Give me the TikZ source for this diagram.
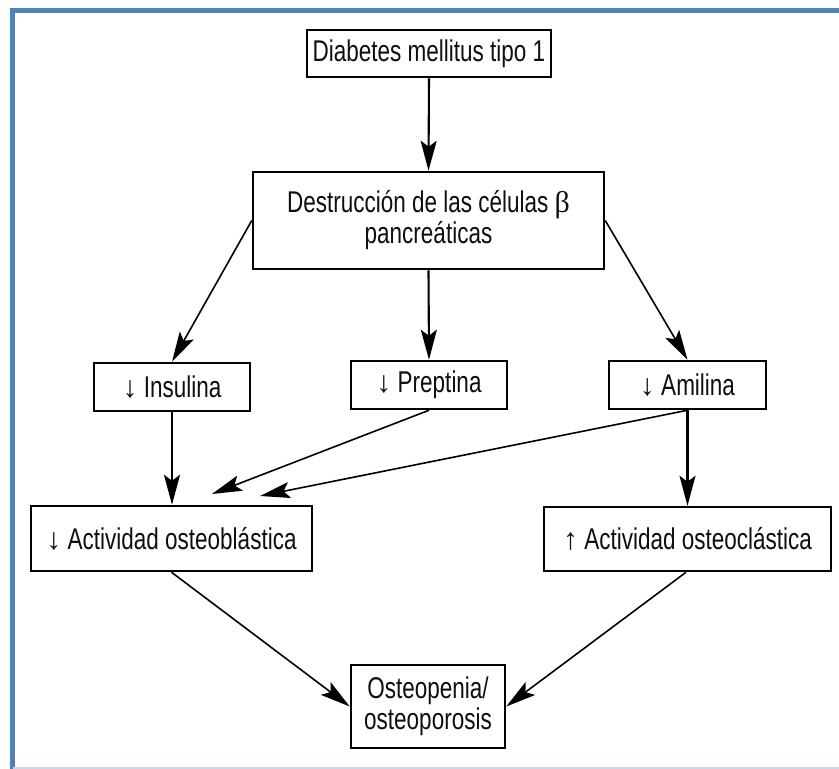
\documentclass[tikz,border=0pt]{standalone}
\usepackage{fontspec}
\setmainfont[FakeStretch=0.75]{Liberation Sans}
\newfontfamily\symf{Liberation Serif}
\usetikzlibrary{arrows.meta}
\definecolor{frameblue}{RGB}{79,129,189}
\definecolor{framelight}{RGB}{200,216,236}
\definecolor{inkgray}{RGB}{15,15,15}
\begin{document}
\begin{tikzpicture}[x=1pt,y=-1pt,
  box/.style={draw=black, line width=2.5pt, inner sep=0pt, align=center,
    font=\fontsize{30}{31}\selectfont, text=inkgray},
  arr/.style={-{Stealth[length=30pt,width=16pt,inset=6pt]}, line width=1.6pt},
  varr/.style={arr, line width=2.1pt}]
\useasboundingbox (0,0) rectangle (839,769);
\fill[white] (0,0) rectangle (839,769);
\draw[frameblue, line width=5pt] (12.5,769) -- (12.5,10.8) -- (839,10.8);
\draw[framelight, line width=1.5pt] (12.5,767.8) -- (839,767.8);

\node[box, minimum width=244pt, minimum height=47pt] (dm) at (429,53.5) {Diabetes mellitus tipo 1};
\node[box, minimum width=351pt, minimum height=97pt] (des) at (428.5,220.5)
  {Destrucción de las células {\symf β}\\pancreáticas};
\node[box, minimum width=156pt, minimum height=48pt] (ins) at (172,387) {{\symf ↓} Insulina};
\node[box, minimum width=156pt, minimum height=48pt] (pre) at (429,385) {{\symf ↓} Preptina};
\node[box, minimum width=157pt, minimum height=48pt] (ami) at (687.5,385) {{\symf ↓} Amilina};
\node[box, minimum width=281pt, minimum height=65pt] (obl) at (171.5,538.5) {{\symf ↓} Actividad osteoblástica};
\node[box, minimum width=287pt, minimum height=64pt] (ocl) at (687.5,539) {{\symf ↑} Actividad osteoclástica};
\node[box, minimum width=154pt, minimum height=83pt] (ost) at (428,706.5) {Osteopenia/\\osteoporosis};

\coordinate (t1) at (212,494);
\coordinate (t2) at (260,496);

\draw[varr] (dm.south) -- (des.north);
\draw[arr] (des.west) -- (ins.north);
\draw[varr] (des.south) -- (pre.north);
\draw[arr] (des.east) -- (ami.north);
\draw[varr] (ins.south) -- (ins.south |- obl.north);
\draw[arr] (pre.south) -- (t1);
\draw[arr] (ami.south) -- (t2);
\draw[varr] (ami.south) -- (ami.south |- ocl.north);
\draw[arr] (obl.south) -- (ost.west);
\draw[arr] (ocl.south -| 686,0) -- (ost.east);
\end{tikzpicture}
\end{document}
